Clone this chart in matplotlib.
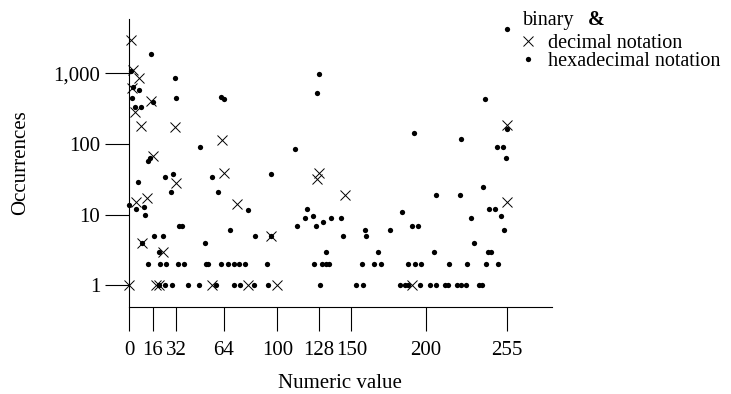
import numpy as np
import matplotlib
matplotlib.use("Agg")
import matplotlib.pyplot as plt
from matplotlib.lines import Line2D

# decimal notation (x markers)
dec_x = [1, 3, 7, 2, 15, 4, 8, 31, 63, 16, 32, 64, 5, 12, 73, 9, 23, 0, 18, 20,
         56, 80, 128, 127, 146, 96, 100, 255, 255, 191]
dec_y = [3000, 1110, 850, 615, 410, 286, 180, 176, 114, 68, 28.5, 39, 15, 17, 14, 4, 3, 1, 1, 1,
         1, 1, 38.7, 31.8, 19, 5, 1, 186, 15, 1]

# hexadecimal notation (dots)
hex_x = [15, 1, 31, 3, 7, 2, 16, 32, 62, 64, 4, 8, 48, 13, 14,
         6, 24, 30, 28, 56, 60, 0, 5, 10, 11, 80, 34, 36, 68, 85, 9, 17, 23, 20, 51,
         13, 21, 25, 33, 37, 52, 53, 62, 67, 71, 74, 78,
         20, 24, 29, 40, 47, 59, 71, 75, 84,
         112, 96, 120, 119, 124, 136, 143, 113, 126, 131, 96, 144, 159, 160, 133, 168,
         93, 125, 130, 133, 135, 157, 165, 170,
         94, 129, 153, 158, 176,
         128, 127,
         255, 240, 255, 192, 224, 248, 252,
         254, 239, 207, 223, 184, 243, 247, 251, 231, 253, 191, 195, 233, 206, 242, 244,
         188, 193, 197, 216, 228, 241, 249,
         183, 186, 188, 196, 203, 207, 213, 215, 221, 224, 227, 236, 238]
hex_y = [1900, 1060, 865, 630, 577, 443, 390, 443, 460, 430, 338, 330, 90, 58, 64,
         29, 34, 37, 21, 34, 21, 13.7, 12, 12.8, 9.9, 11.8, 7, 7, 6, 5, 4, 5, 5, 3, 4,
         2, 2, 2, 2, 2, 2, 2, 2, 2, 2, 2, 2,
         1, 1, 1, 1, 1, 1, 1, 1, 1,
         86, 37, 12, 9, 9.7, 9, 9, 7, 7, 8, 5, 5, 6, 5, 3, 3,
         2, 2, 2, 2, 2, 2, 2, 2,
         1, 1, 1, 1, 6,
         968, 532,
         4270, 430, 162, 145, 119, 92, 92,
         63, 25, 19, 19, 11, 12, 12, 9.6, 9, 6, 7, 7, 4, 3, 3, 3,
         2, 2, 2, 2, 2, 2, 2,
         1, 1, 1, 1, 1, 1, 1, 1, 1, 1, 1, 1, 1]

xticks = [0, 16, 32, 64, 100, 128, 150, 200, 255]
yticks = [1, 10, 100, 1000]
ytick_labels = ["1", "10", "100", "1,000"]

plt.rcParams['font.family'] = ['Liberation Serif', 'DejaVu Serif']
plt.rcParams['font.size'] = 15

fig = plt.figure(figsize=(7.31, 3.94), dpi=100)
ax = fig.add_axes([0.1765, 0.2216, 0.578, 0.7302])

ax.plot(dec_x, dec_y, linestyle='none', marker='x', markersize=7, markeredgewidth=0.7,
        color='black', clip_on=False)
ax.plot(hex_x, hex_y, linestyle='none', marker='o', markersize=3.8, markeredgewidth=0,
        color='black', clip_on=False)

ax.set_yscale('log')
ax.set_xlim(0, 285)
ax.set_ylim(0.5, 5850)
ax.set_xticks(xticks)
ax.set_xticklabels([str(t) for t in xticks])
ax.set_yticks(yticks)
ax.set_yticklabels(ytick_labels)
ax.minorticks_off()
ax.tick_params(axis='both', length=17, width=0.8, color='black')
ax.tick_params(axis='x', pad=8)
ax.tick_params(axis='y', pad=3.6)

for side in ['top', 'right']:
    ax.spines[side].set_visible(False)
ax.spines['left'].set_linewidth(0.8)
ax.spines['bottom'].set_linewidth(0.8)

ax.set_xlabel("Numeric value", labelpad=10)
ax.set_ylabel("Occurrences")
ax.yaxis.set_label_coords(-0.234, 0.5)

handles = [
    Line2D([], [], linestyle='none', marker='x', markersize=7, markeredgewidth=0.7, color='black'),
    Line2D([], [], linestyle='none', marker='o', markersize=3.8, markeredgewidth=0, color='black'),
]
leg = fig.legend(handles, ["decimal notation", "hexadecimal notation"],
                 loc='upper left', bbox_to_anchor=(522.7 / 731, 1 - 34 / 394),
                 frameon=False, borderpad=0, borderaxespad=0, fontsize=14.5,
                 handlelength=0.53, handletextpad=0.73, labelspacing=-0.06)

# heading line of the legend: "binary" and a bold ampersand
fig.text(522.7 / 731, 1 - 25 / 394, "binary", fontsize=14.5, ha='left', va='baseline')
fig.text(588.3 / 731, 1 - 25 / 394, "&", fontsize=14.5, fontweight='bold',
         ha='left', va='baseline')

fig.savefig("out.png", dpi=100)
